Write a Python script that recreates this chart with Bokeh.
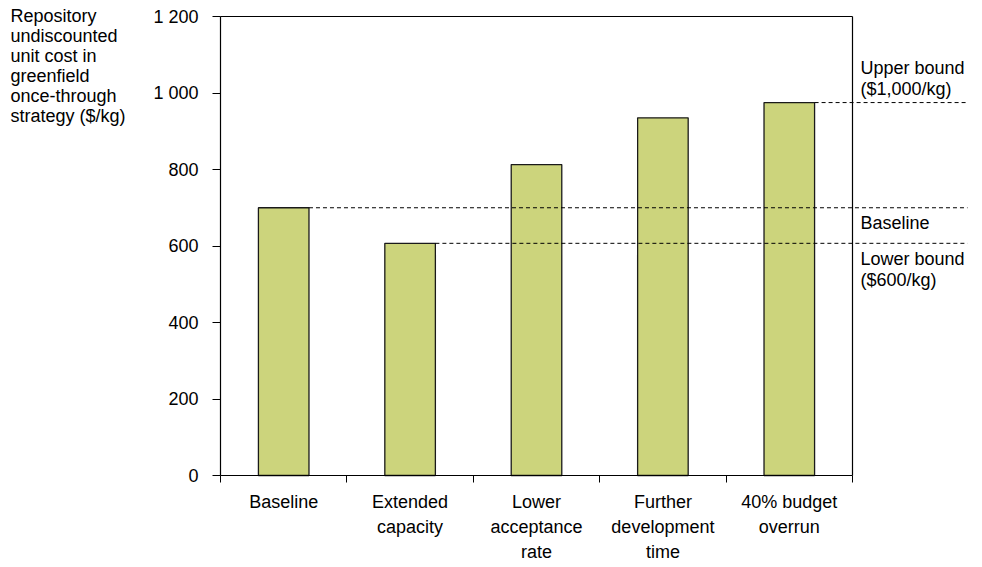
from bokeh.plotting import figure
from bokeh.models import Range1d, FixedTicker, Label, ColumnDataSource
from bokeh.embed import file_html
from bokeh.resources import INLINE

categories = ["Baseline", "Extended\ncapacity", "Lower\nacceptance\nrate",
              "Further\ndevelopment\ntime", "40% budget\noverrun"]
values = [700, 607, 813, 935, 975]
y_ticks = [0, 200, 400, 600, 800, 1000, 1200]
y_tick_labels = ["0", "200", "400", "600", "800", "1 000", "1 200"]
ref_labels = ["Baseline", "Lower bound\n($600/kg)", "Upper bound\n($1,000/kg)"]
ref_index = [0, 1, 4]
y_title = "Repository\nundiscounted\nunit cost in\ngreenfield\nonce-through\nstrategy ($/kg)"

FONT = "Liberation Sans"
n = len(categories)
ymax = y_ticks[-1]
px_per_x = 126.4          # pixels per category
px_per_y = 459 / 1200.0   # pixels per $/kg
x0_px = 220               # pixel position of the value axis
y_top_px = 16             # pixel position of 1 200

W, H = 982, 567
x_start = -x0_px / px_per_x
x_stop = x_start + W / px_per_x
y_stop = ymax + y_top_px / px_per_y
y_start = y_stop - H / px_per_y

p = figure(width=W, height=H, output_backend="svg", toolbar_location=None,
           x_range=Range1d(x_start, x_stop),
           y_range=Range1d(y_start, y_stop),
           min_border_left=0, min_border_right=0,
           min_border_top=0, min_border_bottom=0)
p.outline_line_color = None
p.xgrid.visible = False
p.ygrid.visible = False
p.background_fill_color = "white"
p.border_fill_color = "white"

centers = [i + 0.5 for i in range(n)]
src = ColumnDataSource(dict(x=centers, top=values))
p.vbar(x="x", top="top", bottom=0, width=0.4, source=src,
       fill_color="#CCD47C", line_color="#1a1a1a", line_width=1.3)

# frame borders (top and right)
p.segment(x0=[0, n], y0=[ymax, 0], x1=[n, n], y1=[ymax, ymax],
          line_color="black", line_width=1.2)

# reference dashed lines
x_end = n + (967 - 852) / px_per_x
ref_vals = [values[i] for i in ref_index]
ref_x0 = [centers[i] + 0.2 for i in ref_index]
p.segment(x0=ref_x0, y0=ref_vals, x1=[x_end] * 3, y1=ref_vals,
          line_color="black", line_width=1, line_dash="4 3")

lab_x = n + (860 - 852) / px_per_x
p.add_layout(Label(x=lab_x, y=ref_vals[0], y_offset=-5, text=ref_labels[0],
                   text_baseline="top", text_font=FONT, text_font_size="18px",
                   text_line_height=1.02, text_color="black"))
p.add_layout(Label(x=lab_x, y=ref_vals[1], y_offset=-6, text=ref_labels[1],
                   text_baseline="top", text_font=FONT, text_font_size="18px",
                   text_line_height=1.02, text_color="black"))
p.add_layout(Label(x=lab_x, y=ref_vals[2], y_offset=4, text=ref_labels[2],
                   text_baseline="bottom", text_font=FONT, text_font_size="18px",
                   text_line_height=1.02, text_color="black"))

# y title (top-left)
p.add_layout(Label(x=(10 - x0_px) / px_per_x, y=ymax + (y_top_px - 5.5) / px_per_y,
                   text=y_title, text_baseline="top", text_align="left",
                   text_font=FONT, text_font_size="18px", text_line_height=1.0,
                   text_color="black"))

# category axis, fixed at y = 0
xa = p.xaxis[0]
xa.fixed_location = 0
xa.bounds = (0, n)
xa.ticker = FixedTicker(ticks=centers, minor_ticks=list(range(n + 1)))
xa.major_label_overrides = {c: lab for c, lab in zip(centers, categories)}
xa.major_tick_out = 0
xa.major_tick_in = 0
xa.minor_tick_out = 7
xa.minor_tick_in = 0
xa.minor_tick_line_color = "black"
xa.axis_line_color = "black"
xa.axis_line_width = 1.2
xa.major_label_standoff = 9
xa.major_label_text_font = FONT
xa.major_label_text_font_size = "18px"
xa.major_label_text_color = "black"
xa.major_label_text_line_height = 1.26

# value axis, fixed at x = 0
ya = p.yaxis[0]
ya.fixed_location = 0
ya.bounds = (0, ymax)
ya.ticker = FixedTicker(ticks=y_ticks, minor_ticks=[])
ya.major_label_overrides = {t: s for t, s in zip(y_ticks, y_tick_labels)}
ya.major_tick_out = 8
ya.major_tick_in = 0
ya.minor_tick_out = 0
ya.minor_tick_in = 0
ya.axis_line_color = "black"
ya.axis_line_width = 1.2
ya.major_tick_line_color = "black"
ya.major_label_standoff = 14
ya.major_label_text_font = FONT
ya.major_label_text_font_size = "18px"
ya.major_label_text_color = "black"

open("out.html", "w").write(file_html(p, INLINE))
